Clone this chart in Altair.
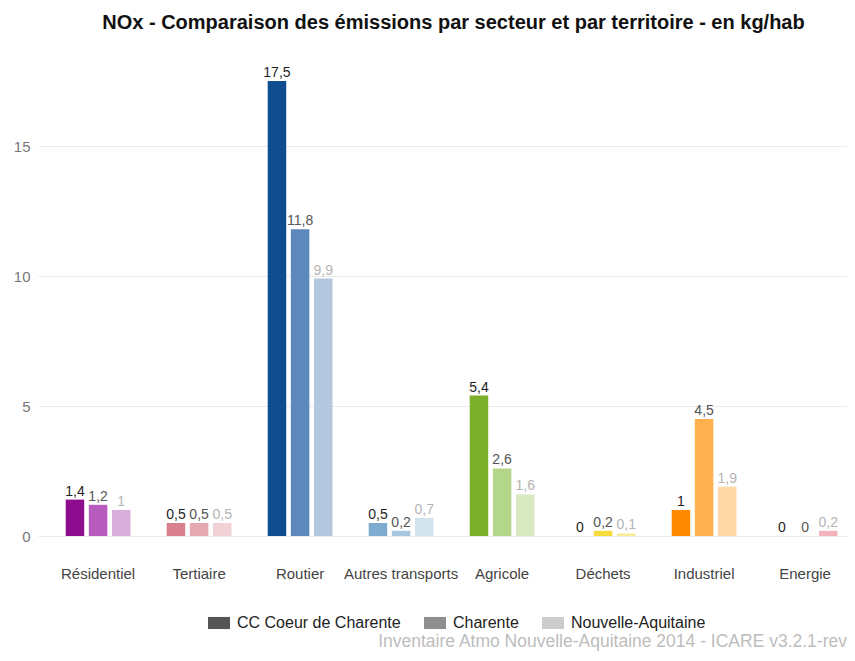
import altair as alt
import pandas as pd

sectors = ["Résidentiel", "Tertiaire", "Routier", "Autres transports",
           "Agricole", "Déchets", "Industriel", "Energie"]
territories = ["CC Coeur de Charente", "Charente", "Nouvelle-Aquitaine"]
cc_values = [1.4, 0.5, 17.5, 0.5, 5.4, 0, 1, 0]
charente_values = [1.2, 0.5, 11.8, 0.2, 2.6, 0.2, 4.5, 0]
na_values = [1, 0.5, 9.9, 0.7, 1.6, 0.1, 1.9, 0.2]

palette = {
    "Résidentiel": ["#8e0c8e", "#b65cbe", "#d9addb"],
    "Tertiaire": ["#d9808f", "#e6a8b3", "#f1d0d6"],
    "Routier": ["#0f4c90", "#5c88bb", "#b3c8de"],
    "Autres transports": ["#7eacd0", "#a8c7de", "#d3e4ef"],
    "Agricole": ["#7bb02a", "#b4d68a", "#d9e9c1"],
    "Déchets": ["#f3cc00", "#f6dc3a", "#f9eb9a"],
    "Industriel": ["#ff8a00", "#ffb04f", "#fdd8a6"],
    "Energie": ["#e0505a", "#ee8a92", "#f3b3ba"],
}
legend_grays = ["#555555", "#8f8f8f", "#cccccc"]
label_grays = ["#1e1e1e", "#555555", "#b4b4b4"]

rows = []
for i, s in enumerate(sectors):
    for j, (t, vals) in enumerate(zip(territories, [cc_values, charente_values, na_values])):
        v = vals[i]
        lab = (("%g" % v).replace(".", ","))
        rows.append({"sector": s, "territory": t, "value": v,
                     "key": s + "|" + t, "label": lab})
df = pd.DataFrame(rows)

key_domain = [s + "|" + t for s in sectors for t in territories]
key_range = [c for s in sectors for c in palette[s]]

FONT = "Liberation Sans"

x_enc = alt.X("sector:N", sort=sectors,
              scale=alt.Scale(paddingInner=0.29, paddingOuter=0.15, align=0.8),
              axis=alt.Axis(title=None, labelAngle=0, labelFontSize=15, labelColor="#444444",
                            labelPadding=30, domain=False, ticks=False, labelFont=FONT))
xo_enc = alt.XOffset("territory:N", sort=territories,
                     scale=alt.Scale(paddingInner=0.2, paddingOuter=0.15))
y_enc = alt.Y("value:Q", scale=alt.Scale(domain=[0, 18.5], nice=False),
              axis=alt.Axis(title=None, values=[0, 5, 10, 15], labelFontSize=15,
                            labelColor="#777777", domain=False, ticks=False,
                            gridColor="#ebebeb", labelPadding=8, labelFont=FONT))

base = alt.Chart(df)

bars = base.mark_bar().encode(
    x=x_enc, xOffset=xo_enc, y=y_enc,
    fill=alt.Fill("key:N", scale=alt.Scale(domain=key_domain, range=key_range), legend=None),
)

texts = base.mark_text(baseline="bottom", dy=-1, fontSize=14, font=FONT).encode(
    x=x_enc, xOffset=xo_enc, y=y_enc, text="label:N",
    color=alt.Color("territory:N", sort=territories,
                    scale=alt.Scale(domain=territories, range=label_grays), legend=None),
)

legend_layer = base.mark_point(filled=True, opacity=0).encode(
    x=x_enc, xOffset=xo_enc, y=alt.Y("value:Q"),
    color=alt.Color("territory:N", sort=territories,
                    scale=alt.Scale(domain=territories, range=legend_grays),
                    legend=alt.Legend(title=None, orient="none", direction="horizontal",
                                      legendX=170, legendY=557, labelLimit=400,
                                      symbolType="M-1,-0.55H1V0.55H-1Z", symbolSize=484,
                                      symbolOpacity=1, symbolStrokeWidth=0,
                                      labelFontSize=16, labelColor="#222222", labelFont=FONT,
                                      columnPadding=23, labelOffset=7)),
)

footer_df = pd.DataFrame({"t": ["Inventaire Atmo Nouvelle-Aquitaine 2014 - ICARE v3.2.1-rev"]})
footer = alt.Chart(footer_df).mark_text(align="right", baseline="middle", fontSize=17.5,
                                        color="#bdbdbd", font=FONT).encode(
    x=alt.value(809), y=alt.value(587), text="t:N")

chart = alt.layer(bars, texts, legend_layer, footer).resolve_scale(
    color="independent", fill="independent"
).properties(
    width=809, height=481,
    title=alt.TitleParams("NOx - Comparaison des émissions par secteur et par territoire - en kg/hab",
                          fontSize=20, font=FONT, fontWeight="bold", color="#111111",
                          anchor="middle", offset=22, dx=11),
    autosize=alt.AutoSizeParams(type="none"),
    padding={"left": 30, "top": 47, "right": 0, "bottom": 116},
).configure_view(stroke=None)

chart.save("out.html", embed_options={"renderer": "svg", "actions": False})
